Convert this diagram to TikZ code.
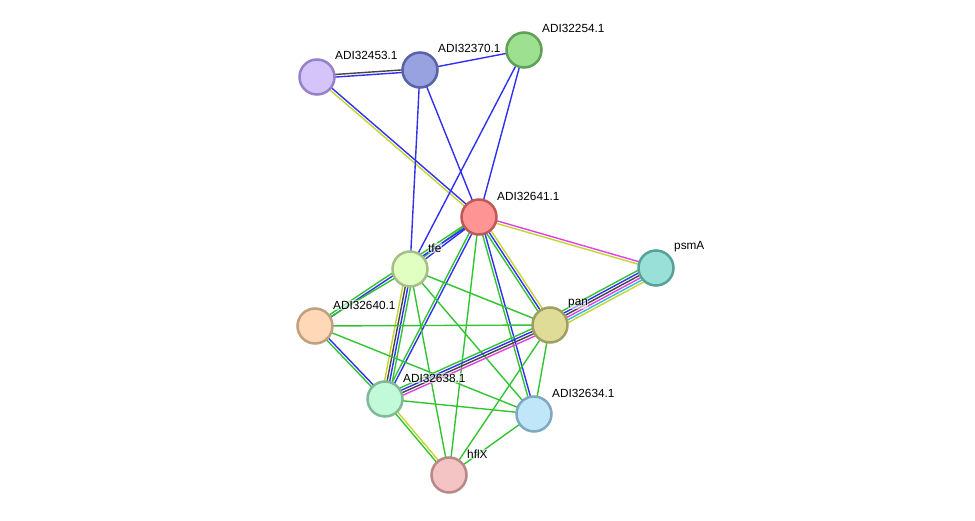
\documentclass[tikz,border=0pt]{standalone}
\usepackage{fontspec}
\setmainfont{Liberation Sans}
\usetikzlibrary{calc,backgrounds}

\definecolor{egreen}{HTML}{33C433}
\definecolor{eblue}{HTML}{3030F0}
\definecolor{eblack}{HTML}{444444}
\definecolor{emagenta}{HTML}{E040E0}
\definecolor{ecyan}{HTML}{30B8E0}
\definecolor{eyellow}{HTML}{C4D430}

% parallel evidence lines between two proteins
\newcommand{\linkedge}[3]{%
  \foreach \c [count=\k] in {#3} {\xdef\nlines{\k}}%
  \foreach \c [count=\i] in {#3} {%
    \pgfmathsetmacro{\off}{(\i-(\nlines+1)/2)*2.6}%
    \draw[edge, \c] ($(#1)!\off pt!90:(#2)$) -- ($(#2)!\off pt!-90:(#1)$);
  }}

\begin{document}
\begin{tikzpicture}[x=1pt, y=-1pt,
    prot/.style={circle, line width=2.5pt, minimum size=35pt, inner sep=0pt},
    edge/.style={line width=1.4pt},
    lbl/.style={font=\fontsize{11.8}{13}\selectfont, anchor=west, inner sep=0.6pt,
      fill=white, fill opacity=0.55, text opacity=1},
]
\useasboundingbox (0,0) rectangle (975,521);

% proteins
\node[prot, fill={rgb,255:red,212;green,196;blue,250}, draw={rgb,255:red,150;green,130;blue,200}] (n453) at (317,77) {};
\node[prot, fill={rgb,255:red,152;green,162;blue,224}, draw={rgb,255:red,88;green,98;blue,166}] (n370) at (420,70) {};
\node[prot, fill={rgb,255:red,156;green,224;blue,144}, draw={rgb,255:red,96;green,160;blue,88}] (n254) at (524,50) {};
\node[prot, fill={rgb,255:red,255;green,148;blue,148}, draw={rgb,255:red,192;green,88;blue,88}] (n641) at (479,217) {};
\node[prot, fill={rgb,255:red,224;green,255;blue,192}, draw={rgb,255:red,166;green,190;blue,136}] (tfe) at (410,269) {};
\node[prot, fill={rgb,255:red,152;green,224;blue,216}, draw={rgb,255:red,88;green,160;blue,152}] (psmA) at (656,268) {};
\node[prot, fill={rgb,255:red,255;green,216;blue,184}, draw={rgb,255:red,192;green,160;blue,128}] (n640) at (315,326) {};
\node[prot, fill={rgb,255:red,222;green,220;blue,150}, draw={rgb,255:red,160;green,158;blue,96}] (pan) at (550,325) {};
\node[prot, fill={rgb,255:red,192;green,250;blue,216}, draw={rgb,255:red,128;green,184;blue,152}] (n638) at (385,399) {};
\node[prot, fill={rgb,255:red,192;green,230;blue,250}, draw={rgb,255:red,128;green,168;blue,192}] (n634) at (534,414) {};
\node[prot, fill={rgb,255:red,244;green,196;blue,196}, draw={rgb,255:red,184;green,136;blue,136}] (hflX) at (449,475) {};

% labels
\node[lbl] (l453) at ([shift={(17.4,-22)}]n453.center) {ADI32453.1};
\node[lbl] (l370) at ([shift={(17.4,-22)}]n370.center) {ADI32370.1};
\node[lbl] (l254) at ([shift={(17.4,-22)}]n254.center) {ADI32254.1};
\node[lbl] (l641) at ([shift={(17.4,-21)}]n641.center) {ADI32641.1};
\node[lbl] (ltfe) at ([shift={(17.4,-21)}]tfe.center) {tfe};
\node[lbl] (lpsmA) at ([shift={(17.4,-21)}]psmA.center) {psmA};
\node[lbl] (l640) at ([shift={(17.4,-21)}]n640.center) {ADI32640.1};
\node[lbl] (lpan) at ([shift={(17.4,-21)}]pan.center) {pan};
\node[lbl] (l638) at ([shift={(17.4,-21)}]n638.center) {ADI32638.1};
\node[lbl] (l634) at ([shift={(17.4,-21)}]n634.center) {ADI32634.1};
\node[lbl] (lhflX) at ([shift={(17.4,-21)}]hflX.center) {hflX};

% interactions
\begin{scope}[on background layer]
\linkedge{n453}{n370}{eblue,eblack}
\linkedge{n370}{n254}{eblue}
\linkedge{n453}{n641}{eyellow,eblue}
\linkedge{n370}{tfe}{eblue}
\linkedge{n370}{n641}{eblue}
\linkedge{n254}{tfe}{eblue}
\linkedge{n254}{n641}{eblue}
\linkedge{n641}{psmA}{eyellow,emagenta}
\linkedge{n641}{tfe}{egreen,eblue}
\linkedge{n641}{n640}{egreen,eblue}
\linkedge{n641}{pan}{egreen,eblue,eyellow}
\linkedge{n641}{n638}{egreen,eblue}
\linkedge{n641}{n634}{egreen,eblue}
\linkedge{n641}{hflX}{egreen}
\linkedge{tfe}{n640}{egreen}
\linkedge{tfe}{pan}{egreen}
\linkedge{tfe}{n638}{eyellow,eblack,eblue,egreen}
\linkedge{tfe}{n634}{egreen}
\linkedge{tfe}{hflX}{egreen}
\linkedge{psmA}{pan}{egreen,eblue,eblack,emagenta,ecyan,eyellow}
\linkedge{n640}{pan}{egreen}
\linkedge{n640}{n638}{egreen,eblue}
\linkedge{n640}{n634}{egreen}
\linkedge{pan}{n638}{egreen,eblue,eblack,emagenta}
\linkedge{pan}{n634}{egreen}
\linkedge{pan}{hflX}{egreen}
\linkedge{n638}{n634}{egreen}
\linkedge{n638}{hflX}{egreen,eyellow}
\linkedge{n634}{hflX}{egreen}
\end{scope}
\end{tikzpicture}
\end{document}
